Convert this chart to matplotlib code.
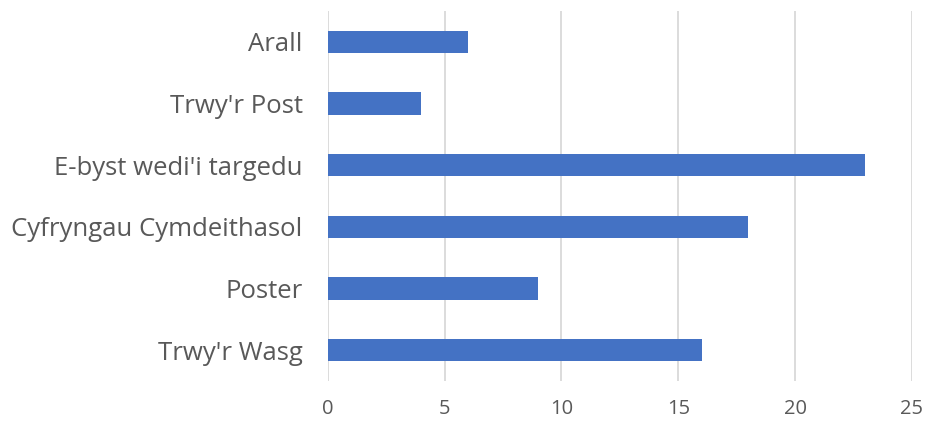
import matplotlib
matplotlib.use("Agg")
import matplotlib.pyplot as plt

categories = ["Trwy'r Wasg", "Poster", "Cyfryngau Cymdeithasol",
              "E-byst wedi'i targedu", "Trwy'r Post", "Arall"]
values = [16, 9, 18, 23, 4, 6]
xticks = [0, 5, 10, 15, 20, 25]

plt.rcParams['font.family'] = ['Open Sans', 'DejaVu Sans']

fig = plt.figure(figsize=(9.47, 4.36), dpi=100)
ax = fig.add_axes([0.346, 0.126, 0.617, 0.849])

ax.barh(range(len(categories)), values, height=0.36, color="#4472C4", zorder=3)
ax.set_xlim(0, 25)
ax.set_ylim(-0.5, len(categories) - 0.5)
ax.set_xticks(xticks)
ax.set_yticks(range(len(categories)))
ax.set_yticklabels(categories, fontsize=18.5, color="#595959")
ax.tick_params(axis="x", labelsize=14.5, colors="#595959", length=0, pad=13)
ax.tick_params(axis="y", length=0, pad=18)
ax.grid(axis="x", color="#D9D9D9", linewidth=1.3, zorder=0)
for s in ax.spines.values():
    s.set_visible(False)

fig.savefig("out.png", dpi=100)
